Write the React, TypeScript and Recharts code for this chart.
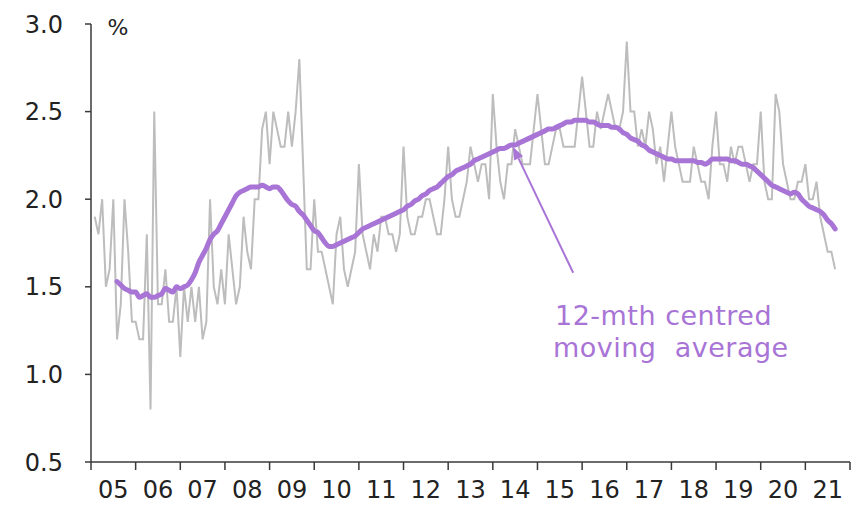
import React from "react";
import { LineChart, Line, XAxis, YAxis, ReferenceLine, ReferenceDot } from "recharts";

// monthly readings, Jan 2005 .. Aug 2021 (%)
const actual = [
  1.9, 1.8, 2.0, 1.5, 1.6, 2.0, 1.2, 1.4, 2.0, 1.7, 1.3, 1.3,
  1.2, 1.2, 1.8, 0.8, 2.5, 1.4, 1.4, 1.6, 1.3, 1.3, 1.5, 1.1,
  1.5, 1.3, 1.5, 1.3, 1.5, 1.2, 1.3, 2.0, 1.5, 1.4, 1.6, 1.4,
  1.8, 1.6, 1.4, 1.5, 1.9, 1.7, 1.6, 2.0, 2.0, 2.4, 2.5, 2.2,
  2.5, 2.4, 2.3, 2.3, 2.5, 2.3, 2.5, 2.8, 2.2, 1.6, 1.6, 2.0,
  1.7, 1.7, 1.6, 1.5, 1.4, 1.8, 1.9, 1.6, 1.5, 1.6, 1.7, 2.2,
  1.8, 1.7, 1.6, 1.8, 1.7, 1.9, 1.9, 1.8, 1.8, 1.7, 1.8, 2.3,
  1.9, 1.8, 1.8, 1.9, 1.9, 2.0, 2.0, 1.9, 1.8, 1.8, 2.0, 2.3,
  2.0, 1.9, 1.9, 2.0, 2.1, 2.3, 2.2, 2.1, 2.2, 2.2, 2.0, 2.6,
  2.3, 2.1, 2.0, 2.2, 2.2, 2.4, 2.3, 2.2, 2.2, 2.2, 2.4, 2.6,
  2.4, 2.2, 2.2, 2.3, 2.4, 2.4, 2.3, 2.3, 2.3, 2.3, 2.5, 2.7,
  2.5, 2.3, 2.3, 2.5, 2.4, 2.5, 2.6, 2.5, 2.4, 2.4, 2.5, 2.9,
  2.5, 2.5, 2.3, 2.4, 2.3, 2.5, 2.4, 2.2, 2.3, 2.1, 2.3, 2.5,
  2.3, 2.2, 2.1, 2.1, 2.1, 2.3, 2.2, 2.1, 2.1, 2.0, 2.3, 2.5,
  2.2, 2.2, 2.1, 2.3, 2.2, 2.3, 2.3, 2.2, 2.1, 2.2, 2.2, 2.5,
  2.1, 2.0, 2.0, 2.6, 2.5, 2.2, 2.1, 2.0, 2.0, 2.1, 2.1, 2.2,
  2.0, 2.0, 2.1, 1.9, 1.8, 1.7, 1.7, 1.6,
];

// 12-mth centred moving average, starts Jul 2005
const MA_START = 6;
const movingAvg = [
  1.53, 1.51, 1.49, 1.48, 1.47, 1.47,
  1.44, 1.45, 1.46, 1.44, 1.44, 1.45, 1.46, 1.49, 1.48, 1.47, 1.50, 1.49,
  1.50, 1.51, 1.54, 1.58, 1.64, 1.68, 1.72, 1.77, 1.80, 1.82, 1.86, 1.90,
  1.94, 1.98, 2.02, 2.04, 2.05, 2.06, 2.07, 2.07, 2.07, 2.08, 2.07, 2.06,
  2.07, 2.07, 2.05, 2.02, 1.99, 1.97, 1.96, 1.93, 1.91, 1.88, 1.85, 1.82,
  1.81, 1.78, 1.75, 1.73, 1.73, 1.74, 1.75, 1.76, 1.77, 1.78, 1.79, 1.81,
  1.83, 1.84, 1.85, 1.86, 1.87, 1.88, 1.89, 1.90, 1.91, 1.92, 1.93, 1.94,
  1.96, 1.97, 1.99, 2.00, 2.02, 2.03, 2.05, 2.06, 2.07, 2.09, 2.11, 2.13,
  2.14, 2.16, 2.17, 2.18, 2.19, 2.20, 2.22, 2.23, 2.24, 2.25, 2.26, 2.27,
  2.28, 2.29, 2.29, 2.30, 2.31, 2.31, 2.32, 2.33, 2.34, 2.35, 2.36, 2.37,
  2.38, 2.39, 2.40, 2.40, 2.41, 2.42, 2.43, 2.44, 2.44, 2.45, 2.45, 2.45,
  2.45, 2.44, 2.44, 2.43, 2.42, 2.42, 2.42, 2.41, 2.41, 2.40, 2.38, 2.37,
  2.35, 2.34, 2.33, 2.31, 2.30, 2.28, 2.27, 2.26, 2.25, 2.24, 2.23, 2.23,
  2.22, 2.22, 2.22, 2.22, 2.22, 2.22, 2.21, 2.21, 2.20, 2.21, 2.23, 2.23,
  2.23, 2.23, 2.23, 2.22, 2.22, 2.21, 2.20, 2.20, 2.19, 2.18, 2.16, 2.14,
  2.12, 2.10, 2.08, 2.07, 2.06, 2.05, 2.04, 2.03, 2.04, 2.03, 2.00, 1.98,
  1.96, 1.95, 1.94, 1.93, 1.91, 1.88, 1.86, 1.83,
];

const yearLabels = ["05", "06", "07", "08", "09", "10", "11", "12", "13", "14", "15", "16", "17", "18", "19", "20", "21"];
const yTicks = [0.5, 1.0, 1.5, 2.0, 2.5, 3.0];

const GREY = "#bdbdbd";
const PURPLE = "#a874d6";
const AXIS = "#3a3a3a";
const FONT = "'DejaVu Sans', sans-serif";

const yearTicks = [...yearLabels.map((_, i) => i * 12), yearLabels.length * 12];
const HALF_YEAR_PX = 759 / yearLabels.length / 2;

const data = actual.map((v, i) => ({
  m: i + 1,
  actual: v,
  ma: i >= MA_START ? movingAvg[i - MA_START] : undefined,
}));

function YearTick(props: any) {
  const { x, y, payload } = props;
  const idx = Math.round(payload.value / 12);
  if (idx >= yearLabels.length) return null;
  return (
    <text x={x + HALF_YEAR_PX} y={y + 26} textAnchor="middle" fill="#222" fontSize={24} fontFamily={FONT}>
      {yearLabels[idx]}
    </text>
  );
}

function PercentLabel(props: any) {
  const { viewBox } = props;
  return (
    <text x={viewBox.x + viewBox.width + 27} y={viewBox.y + 11} textAnchor="middle" fill="#222" fontSize={22} fontFamily={FONT}>
      %
    </text>
  );
}

function Arrow(props: any) {
  const { x1, y1, x2, y2 } = props;
  const ang = Math.atan2(y2 - y1, x2 - x1);
  const len = 13;
  const w = 5;
  const bx = x2 - len * Math.cos(ang);
  const by = y2 - len * Math.sin(ang);
  const px = -Math.sin(ang) * w;
  const py = Math.cos(ang) * w;
  return (
    <g>
      <line x1={x1} y1={y1} x2={bx} y2={by} stroke={PURPLE} strokeWidth={2} />
      <polygon points={`${x2},${y2} ${bx + px},${by + py} ${bx - px},${by - py}`} fill={PURPLE} />
    </g>
  );
}

function AnnotText(props: any) {
  const { cx, cy } = props;
  return (
    <text x={cx} y={cy} fill={PURPLE} fontSize={27} fontFamily={FONT} letterSpacing={0.5} style={{ whiteSpace: "pre" }}>
      <tspan x={cx}>12-mth centred</tspan>
      <tspan x={cx - 2} dy={32}>moving  average</tspan>
    </text>
  );
}

export default function App() {
  return (
    <div style={{ position: "absolute", left: 0, top: 0, background: "#fff" }}>
      <LineChart width={868} height={514} data={data} margin={{ top: 24, right: 18, bottom: 0, left: 0 }}>
        <XAxis
          dataKey="m"
          type="number"
          domain={[0, yearTicks[yearTicks.length - 1]]}
          ticks={yearTicks}
          interval={0}
          height={52}
          tickSize={8}
          stroke={AXIS}
          strokeWidth={1.5}
          tick={<YearTick />}
        />
        <YAxis
          domain={[0.5, 3.0]}
          ticks={yTicks}
          interval={0}
          width={91}
          tickSize={6}
          tickMargin={22}
          stroke={AXIS}
          strokeWidth={1.5}
          tickFormatter={(v: number) => v.toFixed(1)}
          tick={{ fill: "#222", fontSize: 24, fontFamily: FONT }}
          label={<PercentLabel />}
        />
        <Line type="linear" dataKey="actual" stroke={GREY} strokeWidth={2} dot={false} isAnimationActive={false} />
        <Line
          type="monotone"
          dataKey="ma"
          stroke={PURPLE}
          strokeWidth={5}
          strokeLinecap="round"
          strokeLinejoin="round"
          dot={false}
          isAnimationActive={false}
        />
        <ReferenceLine
          segment={[{ x: 129.6, y: 1.58 }, { x: 113.4, y: 2.3 }]}
          shape={<Arrow />}
          ifOverflow="visible"
        />
        <ReferenceDot x={124.7} y={1.28} r={0} shape={<AnnotText />} ifOverflow="visible" />
      </LineChart>
    </div>
  );
}
